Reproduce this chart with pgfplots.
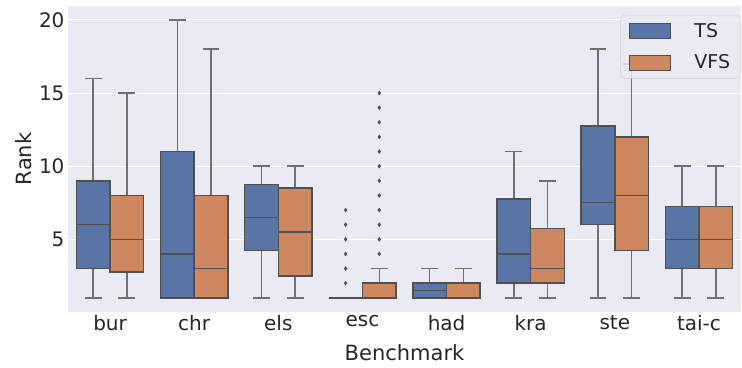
\documentclass[border=0pt]{standalone}
\usepackage{pgfplots}
\pgfplotsset{compat=1.18}
\usepgfplotslibrary{statistics}
\usepackage{fontspec}
\setmainfont{DejaVu Sans}
\definecolor{bgc}{HTML}{EAEAF2}
\definecolor{tsblue}{HTML}{5875A6}
\definecolor{vfsorange}{HTML}{CD8862}
\definecolor{edgec}{HTML}{505050}
\definecolor{whc}{HTML}{707070}
\definecolor{legedge}{HTML}{D0D0D0}
\pgfplotsset{
  sbox/.style={forget plot, fill=#1, draw=edgec, line width=1.5pt,
    mark=diamond*, mark size=2pt, mark options={fill=edgec, draw=edgec, line width=0.3pt},
    boxplot/draw direction=y, boxplot/box extend=0.4, boxplot/whisker extend=0.2,
    boxplot/every whisker/.style={draw=whc, line width=1.5pt}},
}
% #1 colour, #2 position, #3 lower whisker, #4 Q1, #5 median, #6 Q3, #7 upper whisker
\newcommand{\bx}[7]{%
  \addplot[sbox=#1,
    boxplot prepared={draw position=#2, lower whisker=#3, lower quartile=#4,
      median=#5, upper quartile=#6, upper whisker=#7}]
    coordinates {};}
\begin{document}
\begin{tikzpicture}
\begin{axis}[
  scale only axis, width=673pt, height=305.7pt,
  xmin=-0.5, xmax=7.5, ymin=0.05, ymax=20.95,
  axis background/.style={fill=bgc},
  axis line style={draw=none},
  major tick length=0pt,
  xtick={0,1,2,3,4,5,6,7},
  xticklabels={bur,chr,els,esc,had,kra,ste,tai-c},
  ytick={5,10,15,20},
  ymajorgrids, grid style={white, line width=1pt},
  /pgf/number format/assume math mode=true,
  tick label style={font=\fontsize{20}{23}\selectfont, text=black!85},
  label style={font=\fontsize{21}{24}\selectfont, text=black!85},
  xlabel={Benchmark}, ylabel={Rank},
  xlabel style={at={(axis description cs:0.5,-0.158)}, anchor=base},
  ylabel style={at={(axis description cs:-0.0535,0.5)}, anchor=base},
  legend style={at={(rel axis cs:0.999,0.9706)}, anchor=north east,
    fill=bgc, fill opacity=0.8, text opacity=1, draw=legedge, rounded corners=4pt,
    font=\fontsize{19}{22}\selectfont, text=black!85, row sep=12pt, column sep=22pt,
    inner xsep=8pt, inner ysep=6pt},
  legend cell align=left,
  legend image code/.code={\draw[#1, sharp corners, fill opacity=1, line width=0.8pt] (0pt,-7.5pt) rectangle (41pt,7.5pt);},
]
% bur
\bx{tsblue}{-0.2}{1}{3}{6}{9}{16}
\bx{vfsorange}{0.2}{1}{2.75}{5}{8}{15}
% chr
\bx{tsblue}{0.8}{1}{1}{4}{11}{20}
\bx{vfsorange}{1.2}{1}{1}{3}{8}{18}
% els
\bx{tsblue}{1.8}{1}{4.25}{6.5}{8.75}{10}
\bx{vfsorange}{2.2}{1}{2.5}{5.5}{8.5}{10}
% esc
\addplot[sbox=tsblue,
    boxplot prepared={draw position=2.8, lower whisker=1, lower quartile=1,
      median=1, upper quartile=1, upper whisker=1}]
    coordinates {(0,2) (0,3) (0,4) (0,5) (0,6) (0,7)};
\addplot[sbox=vfsorange,
    boxplot prepared={draw position=3.2, lower whisker=1, lower quartile=1,
      median=1, upper quartile=2, upper whisker=3}]
    coordinates {(0,4) (0,5) (0,6) (0,7) (0,8) (0,9) (0,10) (0,11) (0,12) (0,13) (0,14) (0,15)};
% had
\bx{tsblue}{3.8}{1}{1}{1.5}{2}{3}
\bx{vfsorange}{4.2}{1}{1}{1}{2}{3}
% kra
\bx{tsblue}{4.8}{1}{2}{4}{7.75}{11}
\bx{vfsorange}{5.2}{1}{2}{3}{5.75}{9}
% ste
\bx{tsblue}{5.8}{1}{6}{7.5}{12.75}{18}
\bx{vfsorange}{6.2}{1}{4.25}{8}{12}{17}
% tai-c
\bx{tsblue}{6.8}{1}{3}{5}{7.25}{10}
\bx{vfsorange}{7.2}{1}{3}{5}{7.25}{10}
\addlegendimage{fill=tsblue, draw=edgec}
\addlegendentry{TS}
\addlegendimage{fill=vfsorange, draw=edgec}
\addlegendentry{VFS}
\end{axis}
\pgfresetboundingbox
\useasboundingbox (-68pt,-55.3pt) rectangle (674pt,311.7pt);
\end{tikzpicture}
\end{document}
